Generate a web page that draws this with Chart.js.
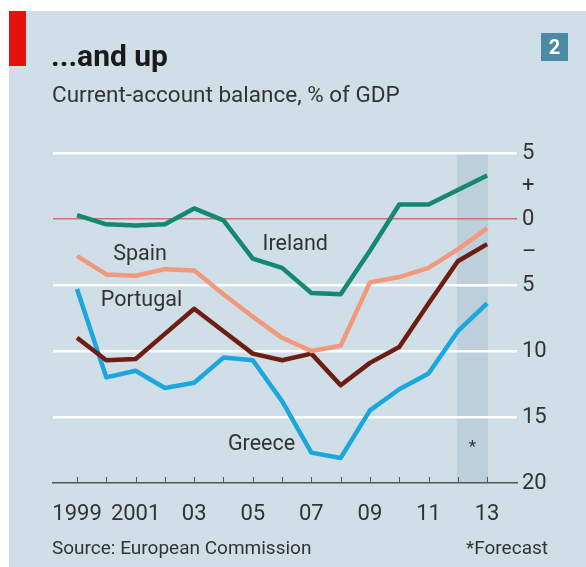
<!DOCTYPE html>
<html>
<head>
<meta charset="utf-8">
<script src="https://cdn.jsdelivr.net/npm/chart.js@4.4.1/dist/chart.umd.min.js"></script>
<style>
  html, body { margin: 0; padding: 0; background: #fff; }
  #wrap { width: 586px; height: 567px; }
</style>
</head>
<body>
<div id="wrap"><canvas id="myChart" width="586" height="567"></canvas></div>
<script>
// datos
const years = [1999, 2000, 2001, 2002, 2003, 2004, 2005, 2006, 2007, 2008, 2009, 2010, 2011, 2012, 2013];
const xTickLabels = ['1999', '', '2001', '', '03', '', '05', '', '07', '', '09', '', '11', '', '13'];
const yTickValues = [5, 2.5, 0, -2.5, -5, -10, -15, -20];
const yTickLabels = ['5', '+', '0', '\u2013', '5', '10', '15', '20'];

const ireland  = [0.3, -0.4, -0.5, -0.4, 0.8, -0.1, -3.0, -3.7, -5.6, -5.7, -2.4, 1.1, 1.1, 2.2, 3.3];
const spain    = [-2.8, -4.2, -4.3, -3.8, -3.9, -5.7, -7.4, -9.0, -10.0, -9.6, -4.8, -4.4, -3.7, -2.3, -0.7];
const portugal = [-9.0, -10.7, -10.6, -8.7, -6.8, -8.5, -10.2, -10.7, -10.2, -12.6, -10.9, -9.7, -6.4, -3.2, -1.9];
const greece   = [-5.3, -12.0, -11.5, -12.8, -12.4, -10.5, -10.7, -13.8, -17.7, -18.1, -14.5, -12.9, -11.7, -8.5, -6.4];

const forecastYears = [2012, 2013];

const FONT = 'Roboto';
const TEXT = '#333333';
const BG = '#d0dfe7';

// etiquetas de las series (en unidades del grafico)
const seriesLabels = [
  { text: 'Spain',    x: 2001.15, y: -3.1 },
  { text: 'Ireland',  x: 2006.45, y: -2.35 },
  { text: 'Portugal', x: 2001.2,  y: -6.6 },
  { text: 'Greece',   x: 2005.3,  y: -17.5 }
];

const toPoints = arr => arr.map((v, i) => ({ x: years[i], y: v }));

// fondo, banda de pronostico, titulos
const decor = {
  id: 'decor',
  beforeDraw(chart) {
    const { ctx, scales: { x, y } } = chart;
    ctx.save();
    ctx.fillStyle = '#ffffff';
    ctx.fillRect(0, 0, chart.width, chart.height);
    ctx.fillStyle = BG;
    ctx.fillRect(9, 11, chart.width - 9, chart.height - 11);

    // banda de pronostico
    const x0 = x.getPixelForValue(forecastYears[0]) - 1;
    const x1 = x.getPixelForValue(forecastYears[1]) + 1;
    ctx.fillStyle = '#bccfdb';
    ctx.fillRect(x0, y.getPixelForValue(5) + 1, x1 - x0, y.getPixelForValue(-20) - y.getPixelForValue(5) - 1);

    // barra roja
    ctx.fillStyle = '#e3120b';
    ctx.fillRect(9, 11, 17, 55);

    ctx.fillStyle = '#1a1a1a';
    ctx.textBaseline = 'alphabetic';
    ctx.textAlign = 'left';
    ctx.font = 'bold 30px ' + FONT;
    ctx.fillText('...and up', 51, 66);
    ctx.fillStyle = TEXT;
    ctx.font = '22.5px ' + FONT;
    ctx.fillText('Current-account balance, % of GDP', 52, 102);

    // recuadro numero
    ctx.fillStyle = '#4d8aa6';
    ctx.fillRect(541, 33, 27, 28);
    ctx.fillStyle = '#ffffff';
    ctx.font = 'bold 20px ' + FONT;
    ctx.textAlign = 'center';
    ctx.fillText('2', 554.5, 54);

    // fuente
    ctx.fillStyle = TEXT;
    ctx.font = '19px ' + FONT;
    ctx.textAlign = 'left';
    ctx.fillText('Source: European Commission', 52, 554);
    ctx.textAlign = 'right';
    ctx.fillText('*Forecast', 548, 554);
    ctx.restore();
  },
  afterDraw(chart) {
    const { ctx, scales: { x, y } } = chart;
    ctx.save();
    // marcas del eje x hacia arriba
    ctx.strokeStyle = '#555';
    ctx.lineWidth = 1;
    const base = y.getPixelForValue(-20);
    years.forEach(yr => {
      const px = Math.round(x.getPixelForValue(yr)) + 0.5;
      ctx.beginPath();
      ctx.moveTo(px, base);
      ctx.lineTo(px, base - 6);
      ctx.stroke();
    });
    // etiquetas de series
    ctx.fillStyle = TEXT;
    ctx.font = '21.5px ' + FONT;
    ctx.textAlign = 'center';
    ctx.textBaseline = 'alphabetic';
    seriesLabels.forEach(l => ctx.fillText(l.text, x.getPixelForValue(l.x), y.getPixelForValue(l.y)));
    ctx.font = '17px ' + FONT;
    ctx.textBaseline = 'middle';
    ctx.fillText('*', x.getPixelForValue(2012.5), y.getPixelForValue(-17.3));
    ctx.restore();
  }
};

const line = (label, data, color) => ({
  label: label,
  data: toPoints(data),
  borderColor: color,
  borderWidth: 4.5,
  pointRadius: 0,
  tension: 0,
  fill: false,
  borderJoinStyle: 'round',
  borderCapStyle: 'butt'
});

const ctx = document.getElementById('myChart').getContext('2d');
new Chart(ctx, {
  type: 'line',
  data: {
    datasets: [
      line('Spain', spain, '#f2987b'),
      line('Portugal', portugal, '#6d1d12'),
      line('Greece', greece, '#1ba6dd'),
      line('Ireland', ireland, '#14896f')
    ]
  },
  plugins: [decor],
  options: {
    responsive: false,
    animation: false,
    devicePixelRatio: 1,
    layout: { padding: { left: 53, top: 153, right: 0, bottom: 0 } },
    plugins: { legend: { display: false }, tooltip: { enabled: false } },
    scales: {
      x: {
        type: 'linear',
        min: 1998.18,
        max: 2014.02,
        afterBuildTicks: s => { s.ticks = years.map(v => ({ value: v })); },
        afterFit: s => { s.height = 84; },
        grid: { display: false, drawTicks: false },
        border: { display: true, color: '#555555', width: 1.5 },
        ticks: {
          autoSkip: false,
          maxRotation: 0,
          padding: 18,
          color: TEXT,
          font: { family: FONT, size: 22 },
          callback: (v, i) => xTickLabels[i]
        }
      },
      y: {
        position: 'right',
        min: -20,
        max: 5,
        afterBuildTicks: s => { s.ticks = yTickValues.map(v => ({ value: v })); },
        afterFit: s => { s.width = 69; },
        grid: {
          drawTicks: false,
          color: c => {
            const v = c.tick.value;
            if (v === 0) return '#d96a73';
            if (v === -20 || v % 5 !== 0) return 'rgba(0,0,0,0)';
            return '#ffffff';
          },
          lineWidth: c => (c.tick.value === 0 ? 1.5 : 2.5)
        },
        border: { display: false },
        ticks: {
          autoSkip: false,
          padding: 5,
          color: TEXT,
          font: { family: FONT, size: 22 },
          callback: (v, i) => yTickLabels[i]
        }
      }
    }
  }
});
</script>
</body>
</html>
